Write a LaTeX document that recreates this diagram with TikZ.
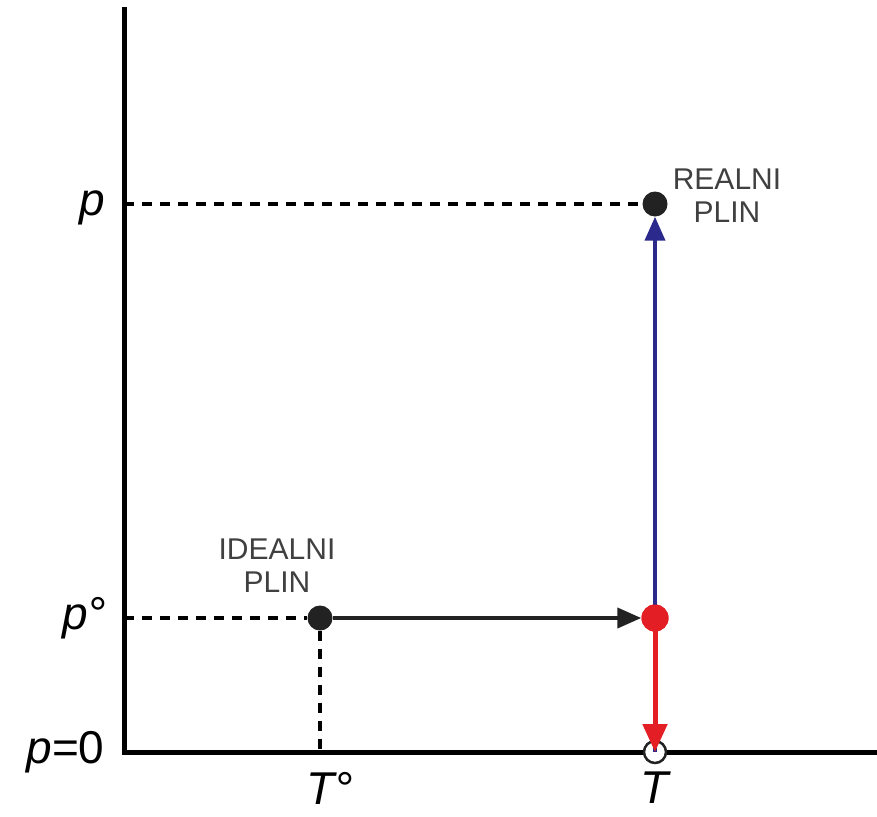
\documentclass[tikz,border=0pt]{standalone}
\usepackage{fontspec}
\setmainfont{Liberation Sans}
\usetikzlibrary{arrows.meta}
\definecolor{navy}{HTML}{2B2A8C}
\definecolor{rd}{HTML}{E31E24}
\definecolor{dk}{HTML}{222222}
\begin{document}
\begin{tikzpicture}[x=1pt,y=-1pt,
  axis/.style={line width=5pt,line cap=rect},
  dashline/.style={line width=4pt,dash pattern=on 10pt off 8pt},
  dot/.style={circle,fill=dk,inner sep=0pt,minimum size=25pt},
  lbl/.style={font=\fontsize{30}{33}\selectfont,text=black!75,align=center},
  ax/.style={font=\fontsize{46}{46}\selectfont\itshape}]
\useasboundingbox (0,0) rectangle (877,816);
\coordinate (top) at (124,10);
\coordinate (O) at (124,752);
\coordinate (xe) at (877,752);
\draw[axis] (top) -- (O) -- (xe);
\coordinate (pp) at (124,204);
\coordinate (p0) at (124,618);
\coordinate (Tb) at (320,752);
\node[dot] (ideal) at (320,618) {};
\node[dot] (real) at (655,204) {};
\node[circle,fill=rd,inner sep=0pt,minimum size=27pt] (mid) at (655,618) {};
\node[circle,draw=dk,fill=white,line width=2.5pt,inner sep=0pt,minimum size=22pt] (zero) at (655,752) {};
\draw[dashline] (pp) -- (real.west);
\draw[dashline] (p0) -- (ideal.west);
\draw[dashline] (ideal.south) -- (Tb);
\draw[navy,line width=4pt,-{Triangle[length=24pt,width=20pt]}] (zero.center) -- (real.south);
\draw[dk,line width=4pt,-{Triangle[length=24pt,width=20pt]}] (ideal.east) -- (mid.west);
\draw[rd,line width=5pt,-{Triangle[length=28pt,width=24pt]}] (mid.center) -- (zero.center);
\node[circle,fill=rd,inner sep=0pt,minimum size=27pt] at (mid) {};
\node[lbl] (rl) at (727,196) {REALNI\\PLIN};
\node[lbl] (il) at (277,566) {IDEALNI\\PLIN};
\node[ax] (lp) at (92,208) {p};
\node[ax] (lp0) at (84,618) {p°};
\node[ax,anchor=east] (lz) at (108,752) {p\upshape=0};
\node[ax] (lT0) at (330,788) {T°};
\node[ax] (lT) at (655,788) {T};
\end{tikzpicture}
\end{document}
